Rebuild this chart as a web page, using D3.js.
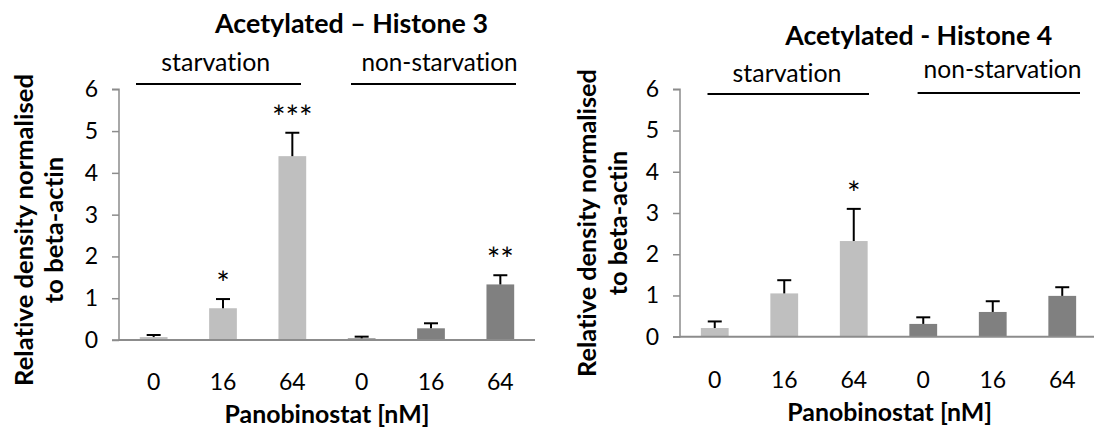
<!DOCTYPE html>
<html>
<head>
<meta charset="utf-8">
<script src="https://cdn.jsdelivr.net/npm/d3@7"></script>
<style>
  html, body { margin: 0; padding: 0; background: #fff; }
  svg { display: block; }
  text { font-family: Lato, "Open Sans", sans-serif; fill: #000; font-variant-ligatures: none; font-feature-settings: "liga" 0, "clig" 0; }
</style>
</head>
<body>
<svg id="chart" width="1094" height="433"></svg>
<script>
// ---------------- data ----------------
const doseLabels = ["0", "16", "64", "0", "16", "64"];
const groupLabels = ["starvation", "non-starvation"];
const groupOfBar = [0, 0, 0, 1, 1, 1];
const yTicks = [0, 1, 2, 3, 4, 5, 6];

const h3Values = [0.07, 0.76, 4.40, 0.04, 0.28, 1.33];
const h3Errors = [0.05, 0.22, 0.56, 0.04, 0.12, 0.22];
const h3Stars  = ["", "*", "***", "", "", "**"];

const h4Values = [0.21, 1.05, 2.32, 0.31, 0.60, 0.99];
const h4Errors = [0.16, 0.32, 0.78, 0.16, 0.26, 0.21];
const h4Stars  = ["", "", "*", "", "", ""];

const titles = ["Acetylated \u2013 Histone 3", "Acetylated - Histone 4"];
const yTitleLines = ["Relative density normalised", "to beta-actin"];
const xTitle = "Panobinostat [nM]";

// ---------------- styles / layout ----------------
const barFill = ["#bfbfbf", "#808080"];
const axisColor = "#8c8c8c";

const svg = d3.select("#chart");

function fitText(sel, targetWidth, baseSize) {
  sel.style("font-size", baseSize + "px");
  const w = sel.node().getComputedTextLength();
  const size = baseSize * targetWidth / w;
  sel.style("font-size", size + "px");
  return size;
}

const panels = [
  {
    values: h3Values, errors: h3Errors, stars: h3Stars,
    xRange: [119, 535], yRange: [340, 89.3],
    title: titles[0], titleX: 351.5, titleY: 33, titleW: 273,
    groups: [
      { cx: 215.8, ty: 71, tw: 109, x1: 136, x2: 301, ly: 84 },
      { cx: 439.5, ty: 71, tw: 156, x1: 351, x2: 516, ly: 84 }
    ],
    yt1: 33, yt2: 63, ytCy: 230, yt1W: 312,
    xtX: 327, xtY: 423, xtW: 205, xlabY: 390
  },
  {
    values: h4Values, errors: h4Errors, stars: h4Stars,
    xRange: [680, 1097], yRange: [336.7, 89.3],
    title: titles[1], titleX: 918.7, titleY: 45, titleW: 267,
    groups: [
      { cx: 787, ty: 82, tw: 109, x1: 707.5, x2: 869, ly: 94 },
      { cx: 1002.5, ty: 78, tw: 158, x1: 917.6, x2: 1080, ly: 93 }
    ],
    yt1: 596, yt2: 627, ytCy: 223, yt1W: 308,
    xtX: 889.7, xtY: 421, xtW: 205, xlabY: 388
  }
];

panels.forEach(p => {
  const g = svg.append("g");
  const idx = d3.range(p.values.length);
  const xc = d3.scaleBand().domain(idx).range(p.xRange);
  const y = d3.scaleLinear().domain([0, 6]).range(p.yRange);
  const cx = i => xc(i) + xc.bandwidth() / 2;

  // y axis
  const yAxis = g.append("g")
    .attr("transform", `translate(${p.xRange[0]},0)`)
    .call(d3.axisLeft(y).tickValues(yTicks).tickSize(7).tickPadding(14).tickFormat(d3.format("d")));
  yAxis.select(".domain").attr("stroke", axisColor).attr("stroke-width", 1.5).attr("d", `M-7,${y(6)}H0V${y(0)}H-7`);
  yAxis.selectAll(".tick line").attr("stroke", axisColor).attr("stroke-width", 1.5);
  yAxis.selectAll(".tick text").style("font-size", "23px").style("font-family", "Lato, sans-serif").attr("fill", "#000");

  // bars
  g.selectAll("rect.bar").data(idx).join("rect")
    .attr("class", "bar")
    .attr("x", i => xc(i) + xc.bandwidth() * 0.3)
    .attr("width", xc.bandwidth() * 0.4)
    .attr("y", i => y(p.values[i]))
    .attr("height", i => y(0) - y(p.values[i]))
    .attr("fill", i => barFill[groupOfBar[i]]);

  // error bars (upper only)
  const cap = 7;
  const eg = g.selectAll("g.err").data(idx).join("g").attr("class", "err");
  eg.append("line")
    .attr("x1", cx).attr("x2", cx)
    .attr("y1", i => y(p.values[i])).attr("y2", i => y(p.values[i] + p.errors[i]))
    .attr("stroke", "#000").attr("stroke-width", 2);
  eg.append("line")
    .attr("x1", i => cx(i) - cap).attr("x2", i => cx(i) + cap)
    .attr("y1", i => y(p.values[i] + p.errors[i])).attr("y2", i => y(p.values[i] + p.errors[i]))
    .attr("stroke", "#000").attr("stroke-width", 2);

  // x axis line
  g.append("line")
    .attr("x1", p.xRange[0]).attr("x2", p.xRange[1])
    .attr("y1", y(0)).attr("y2", y(0))
    .attr("stroke", axisColor).attr("stroke-width", 2);

  // x labels
  g.selectAll("text.xlab").data(idx).join("text")
    .attr("class", "xlab")
    .attr("x", cx)
    .attr("y", p.xlabY)
    .attr("text-anchor", "middle")
    .style("font-size", "23px")
    .text(i => doseLabels[i]);

  // stars
  g.selectAll("text.star").data(idx.filter(i => p.stars[i])).join("text")
    .attr("class", "star")
    .attr("x", cx)
    .attr("y", i => y(p.values[i] + p.errors[i]) - 4)
    .attr("text-anchor", "middle")
    .style("font-size", "32px")
    .style("letter-spacing", "0px")
    .text(i => p.stars[i]);

  // title
  const t = g.append("text").attr("x", p.titleX).attr("y", p.titleY)
    .attr("text-anchor", "middle").style("font-weight", "bold").text(p.title);
  fitText(t, p.titleW, 24);

  // group labels and lines
  p.groups.forEach((gr, k) => {
    const gt = g.append("text").attr("x", gr.cx).attr("y", gr.ty)
      .attr("text-anchor", "middle").text(groupLabels[k]);
    fitText(gt, gr.tw, 22);
    g.append("line").attr("x1", gr.x1).attr("x2", gr.x2).attr("y1", gr.ly).attr("y2", gr.ly)
      .attr("stroke", "#000").attr("stroke-width", 2);
  });

  // y title (two lines, rotated)
  const l1 = g.append("text").attr("transform", `translate(${p.yt1},${p.ytCy}) rotate(-90)`)
    .attr("text-anchor", "middle").style("font-weight", "bold").text(yTitleLines[0]);
  const s = fitText(l1, p.yt1W, 22);
  g.append("text").attr("transform", `translate(${p.yt2},${p.ytCy}) rotate(-90)`)
    .attr("text-anchor", "middle").style("font-weight", "bold").style("font-size", s + "px").text(yTitleLines[1]);

  // x title
  const xt = g.append("text").attr("x", p.xtX).attr("y", p.xtY)
    .attr("text-anchor", "middle").style("font-weight", "bold").text(xTitle);
  fitText(xt, p.xtW, 22);
});
</script>
</body>
</html>
